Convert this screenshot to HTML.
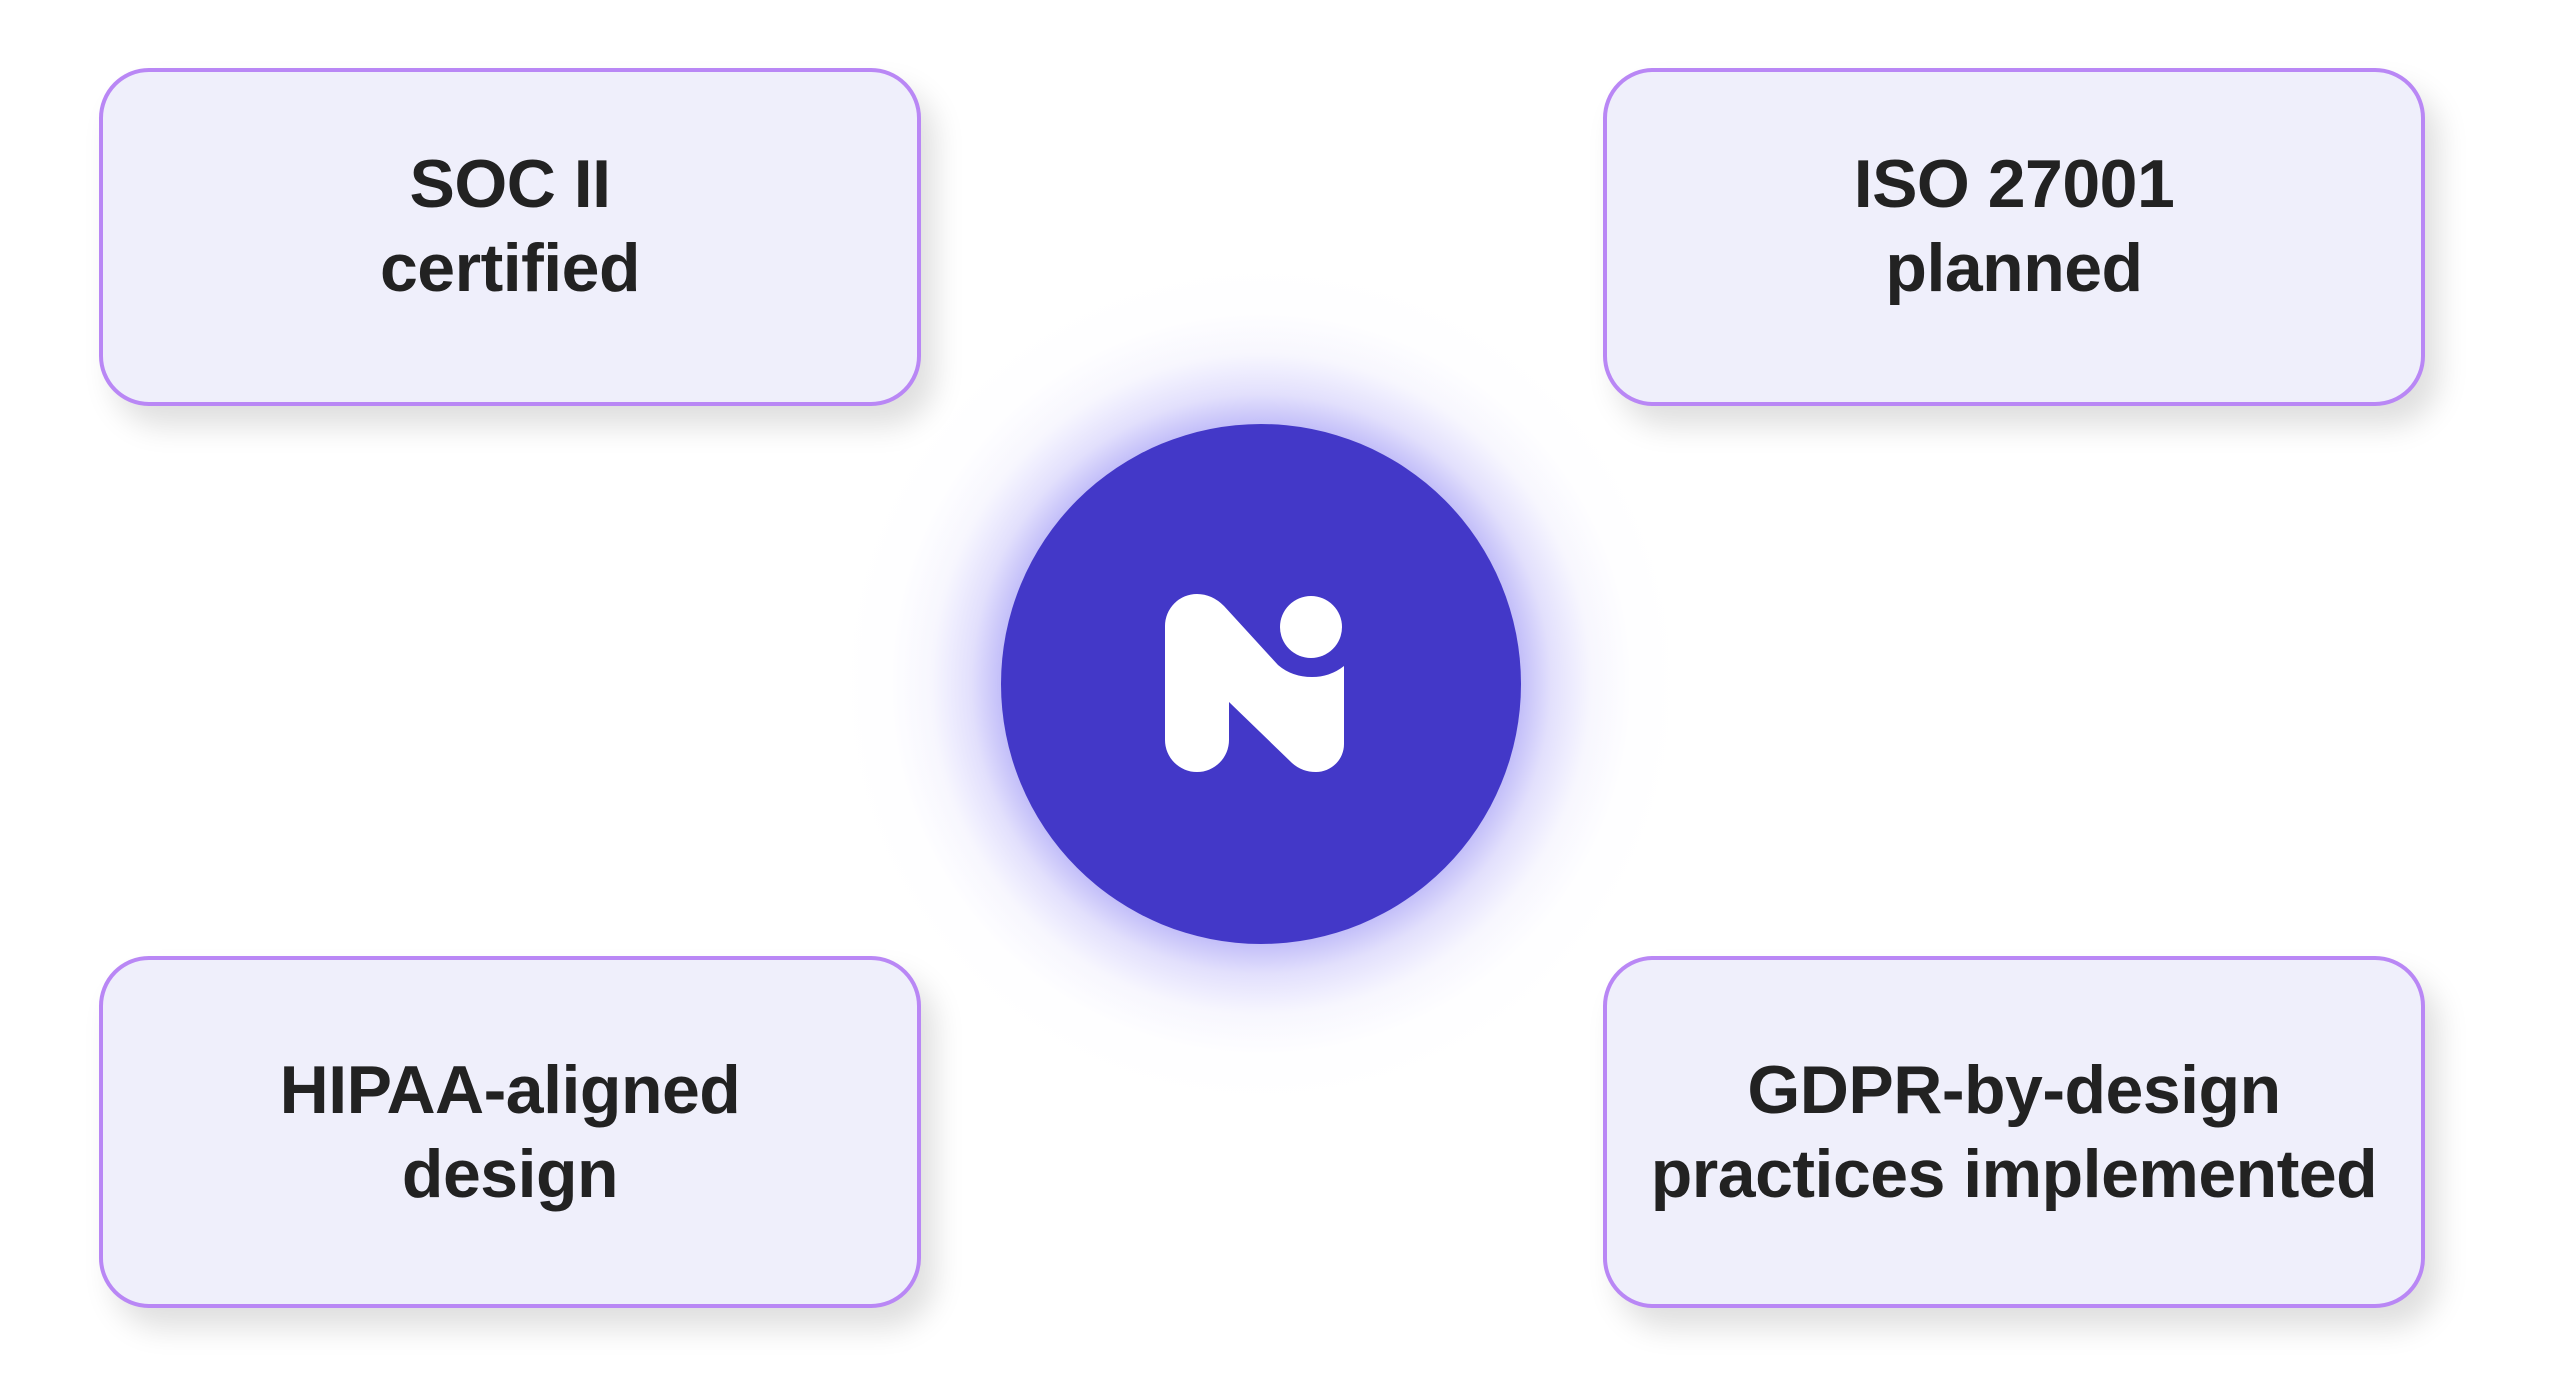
<!DOCTYPE html>
<html><head><meta charset="utf-8"><style>
html,body{margin:0;padding:0;background:#fff;}
body{width:2560px;height:1378px;position:relative;overflow:hidden;font-family:"Liberation Sans",Arial,sans-serif;}
.box{position:absolute;box-sizing:border-box;width:822px;height:338px;padding-bottom:22px;background:#efeffb;border:4px solid #b987f5;border-radius:50px;box-shadow:14px 20px 30px rgba(0,0,0,0.13);display:flex;align-items:center;justify-content:center;text-align:center;color:#222;font-weight:bold;font-size:68px;line-height:84px;letter-spacing:-0.5px;}
.bot{height:352px;padding-bottom:0;}
.glow{position:absolute;left:761px;top:184px;width:1000px;height:1000px;border-radius:50%;background:radial-gradient(circle closest-side, rgba(100,90,240,0.6) 0%, rgba(110,100,240,0.45) 51%, rgba(140,130,245,0.25) 58%, rgba(190,185,250,0.12) 66%, rgba(230,228,253,0.05) 74%, rgba(255,255,255,0) 84%);}
</style></head><body>
<div class="glow"></div>
<div class="box" style="left:99px;top:68px;">SOC II<br>certified</div>
<div class="box" style="left:1603px;top:68px;">ISO 27001<br>planned</div>
<div class="box bot" style="left:99px;top:956px;">HIPAA-aligned<br>design</div>
<div class="box bot" style="left:1603px;top:956px;">GDPR-by-design<br>practices implemented</div>
<svg width="2560" height="1378" style="position:absolute;left:0;top:0">
<circle cx="1261" cy="684" r="260" fill="#4338c8"/>
<circle cx="1311" cy="627" r="31" fill="#fff"/>
<path d="M1165,626 A32,32 0 0 1 1197,594 Q1212,594 1224,606 L1278,665 Q1292,677 1312,677 Q1330,677 1344,666 L1344,744 A28,28 0 0 1 1316,772 Q1302,772 1292,763 L1229,702 L1229,740 A32,32 0 0 1 1165,740 Z" fill="#fff"/>
</svg>
</body></html>
